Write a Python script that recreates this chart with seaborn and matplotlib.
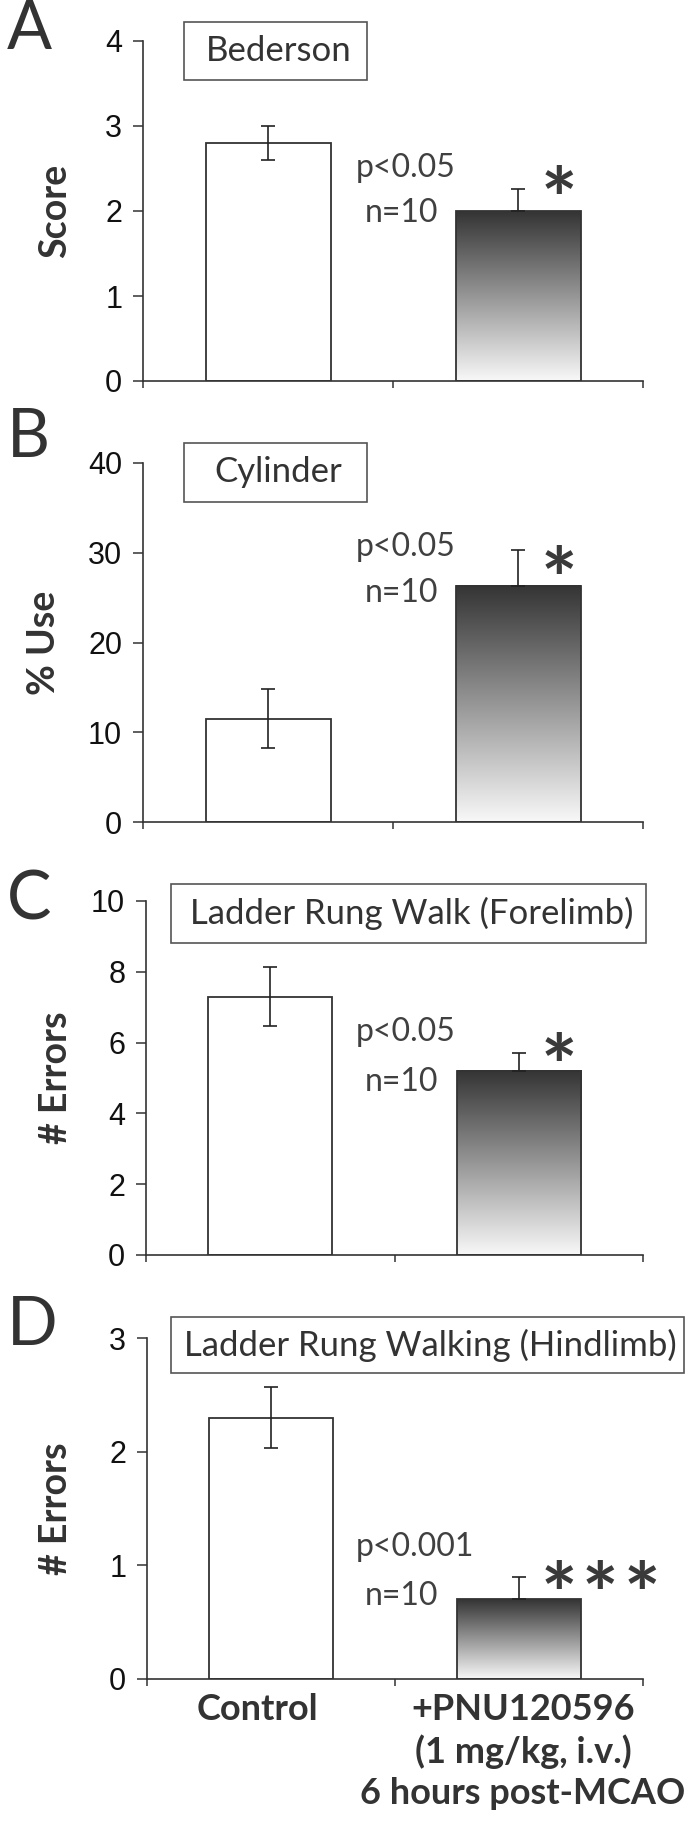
import numpy as np
import pandas as pd
import matplotlib
matplotlib.use("Agg")
import matplotlib.pyplot as plt
import seaborn as sns
from matplotlib.patches import Rectangle
from matplotlib.colors import LinearSegmentedColormap
from matplotlib.transforms import ScaledTranslation

# ---------------- data ----------------
groups = ["Control", "+PNU120596\n(1 mg/kg, i.v.)\n6 hours post-MCAO"]
panel_letters = ["A", "B", "C", "D"]
test_names = ["Bederson", "Cylinder", "Ladder Rung Walk (Forelimb)",
              "Ladder Rung Walking (Hindlimb)"]
y_labels = ["Score", "% Use", "# Errors", "# Errors"]

bederson_mean = [2.8, 2.0]
bederson_sem = [0.2, 0.26]
cylinder_mean = [11.5, 26.3]
cylinder_sem = [3.3, 4.0]
forelimb_mean = [7.3, 5.2]
forelimb_sem = [0.83, 0.5]
hindlimb_mean = [2.3, 0.7]
hindlimb_sem = [0.27, 0.2]

y_max = [4, 40, 10, 3]
y_step = [1, 10, 2, 1]
p_texts = ["p<0.05", "p<0.05", "p<0.05", "p<0.001"]
n_texts = ["n=10", "n=10", "n=10", "n=10"]
star_counts = [1, 1, 1, 3]

means = [bederson_mean, cylinder_mean, forelimb_mean, hindlimb_mean]
sems = [bederson_sem, cylinder_sem, forelimb_sem, hindlimb_sem]

# ---------------- layout (pixels) ----------------
W, H = 699, 1838
axes_px = [(143, 41, 643, 381), (143, 463, 643, 822),
           (146, 901, 643, 1255), (147, 1338, 643, 1679)]
box_px = [(184, 22, 367, 80), (184, 443, 367, 502),
          (171, 884, 646, 943), (171, 1317, 684, 1373)]
letter_y = [30, 438, 900, 1326]
ylabel_x = [55, 44, 56, 56]
p_y = [168, 547, 1032, 1547]
n_y = [213, 593, 1082, 1596]
star_y = [177, 557, 1044, 1572]
star_x = [[559], [559], [559], [559, 600, 642]]

sns.set_style("ticks")
plt.rcParams["font.family"] = ["Lato", "DejaVu Sans"]

TXT = "#333333"
tick_font = ["Liberation Sans Narrow", "Liberation Sans", "DejaVu Sans"]

def fx(px):
    return px / W

def fy(py):
    return 1 - py / H

fig = plt.figure(figsize=(W / 100, H / 100), dpi=100)
fig.patch.set_facecolor("white")

grad_cmap = LinearSegmentedColormap.from_list("g", ["#f8f8f8", "#343434"])
gradient = np.linspace(0, 1, 256).reshape(-1, 1)

STAR_PT = 62
star_off = 0.61 * STAR_PT * 100 / 72

for i in range(4):
    l, t, r, b = axes_px[i]
    ax = fig.add_axes([fx(l), fy(b), (r - l) / W, (b - t) / H])
    df = pd.DataFrame({"group": groups, "value": means[i]})
    sns.barplot(data=df, x="group", y="value", hue="group",
                palette=["white", "white"], legend=False, width=0.5,
                edgecolor="#333333", linewidth=1.3, errorbar=None, ax=ax,
                zorder=2)
    # gradient fill for treated bar
    bar = ax.patches[1]
    x0, y0 = bar.get_x(), bar.get_y()
    bw, bh = bar.get_width(), bar.get_height()
    bar.set_facecolor("none")
    bar.set_zorder(3)
    ax.imshow(gradient, extent=[x0, x0 + bw, y0, y0 + bh], origin="lower",
              aspect="auto", cmap=grad_cmap, zorder=2.5)
    # error bars
    lower = [sems[i][0], 0]
    upper = [sems[i][0], sems[i][1]]
    ax.errorbar([0, 1], means[i], yerr=[lower, upper], fmt="none",
                ecolor="#222222", elinewidth=1.2, capsize=5, capthick=1.2,
                zorder=4)
    ax.set_xlim(-0.5, 1.5)
    ax.set_ylim(0, y_max[i])
    ax.set_yticks(np.arange(0, y_max[i] + y_step[i] / 2, y_step[i]))
    ax.set_aspect("auto")
    ax.set_xlabel("")
    ax.set_ylabel("")
    for s in ["top", "right"]:
        ax.spines[s].set_visible(False)
    for s in ["left", "bottom"]:
        ax.spines[s].set_color("#333333")
        ax.spines[s].set_linewidth(1.2)
    ax.tick_params(axis="y", direction="out", length=7, width=1.1,
                   color="#333333", pad=8, labelsize=22, labelcolor="#111111")
    for lab in ax.get_yticklabels():
        lab.set_family(tick_font)
    ax.set_xticks([-0.5, 0.5, 1.5], minor=True)
    ax.tick_params(axis="x", which="minor", direction="out", length=5,
                   width=1.1, color="#333333")
    ax.set_xticks([0, 1])
    if i == 3:
        ax.set_xticklabels(groups, fontsize=26, fontweight="bold", color=TXT,
                           linespacing=1.3)
        ax.tick_params(axis="x", which="major", length=0, pad=10)
        labs = ax.get_xticklabels()
        labs[0].set_transform(labs[0].get_transform() +
                              ScaledTranslation(-0.14, 0, fig.dpi_scale_trans))
        labs[1].set_transform(labs[1].get_transform() +
                              ScaledTranslation(0.04, 0, fig.dpi_scale_trans))
    else:
        ax.set_xticklabels(["", ""])
        ax.tick_params(axis="x", which="major", length=0)
    ax.set_facecolor("white")

    # title box
    bl, bt, br, bb = box_px[i]
    fig.patches.append(Rectangle((fx(bl), fy(bb)), (br - bl) / W,
                                 (bb - bt) / H, transform=fig.transFigure,
                                 fill=False, edgecolor="#555555",
                                 linewidth=1.2))
    fig.text(fx((bl + br) / 2 + 3), fy((bt + bb) / 2), test_names[i],
             ha="center", va="center", fontsize=25, color=TXT)
    # panel letter
    fig.text(fx(7), fy(letter_y[i]), panel_letters[i], ha="left",
             va="center", fontsize=48, color=TXT)
    # y label
    fig.text(fx(ylabel_x[i]), fy((t + b) / 2), y_labels[i], rotation=90,
             ha="center", va="center", fontsize=27, fontweight="bold",
             color=TXT)
    # p and n text
    fig.text(fx(356), fy(p_y[i]), p_texts[i], ha="left", va="center",
             fontsize=23, color="#404040")
    fig.text(fx(365), fy(n_y[i]), n_texts[i], ha="left", va="center",
             fontsize=23, color="#404040")
    for sx in star_x[i]:
        fig.text(fx(sx), fy(star_y[i] + star_off), "*", ha="center",
                 va="baseline", fontsize=STAR_PT, fontweight="bold",
                 color="#3a3a3a")

fig.savefig("out.png", dpi=100, facecolor="white")
